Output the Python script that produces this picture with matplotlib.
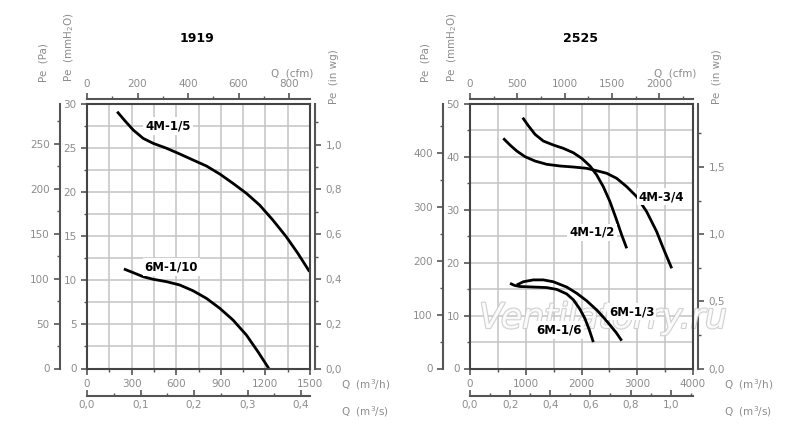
import matplotlib
matplotlib.use("Agg")
import matplotlib.pyplot as plt
import matplotlib.patheffects as pe
from matplotlib.ticker import MultipleLocator, FuncFormatter

# ---- data (Q in m3/h, Pe in mmH2O) ----
q_1919_4m15 = [203, 255, 311, 378, 445, 535, 624, 713, 803, 893, 982, 1072, 1161, 1250, 1340, 1418, 1497]
p_1919_4m15 = [29.13, 28.1, 27.05, 26.1, 25.54, 24.98, 24.33, 23.65, 22.97, 22.06, 21.0, 19.87, 18.54,
               16.84, 14.95, 13.07, 10.98]
q_1919_6m110 = [248, 311, 378, 445, 535, 624, 713, 803, 893, 982, 1072, 1150, 1223]
p_1919_6m110 = [11.29, 10.87, 10.41, 10.12, 9.85, 9.47, 8.82, 7.96, 6.83, 5.5, 3.8, 1.9, 0.0]

q_2525_4m12 = [945, 1046, 1166, 1315, 1494, 1674, 1853, 2004, 2152, 2273, 2391, 2511, 2619, 2721, 2811]
p_2525_4m12 = [47.41, 45.9, 44.27, 43.0, 42.25, 41.62, 40.79, 39.73, 38.28, 36.58, 34.37, 31.53,
               28.39, 25.24, 22.72]
q_2525_4m34 = [597, 717, 838, 987, 1166, 1376, 1614, 1853, 2093, 2273, 2452, 2631, 2811, 2990,
               3169, 3349, 3467, 3618]
p_2525_4m34 = [43.51, 42.25, 41.12, 40.04, 39.22, 38.6, 38.28, 38.09, 37.84, 37.39, 36.9, 35.95,
               34.37, 32.48, 29.64, 25.86, 22.72, 18.94]
q_2525_6m13 = [838, 956, 1136, 1315, 1494, 1734, 1914, 2093, 2273, 2392, 2511, 2621, 2721]
p_2525_6m13 = [15.78, 16.4, 16.75, 16.75, 16.4, 15.4, 14.22, 12.8, 11.06, 9.7, 8.22, 6.8, 5.26]
q_2525_6m16 = [718, 800, 897, 1017, 1136, 1256, 1376, 1555, 1734, 1853, 1973, 2063, 2140, 2212]
p_2525_6m16 = [16.1, 15.7, 15.5, 15.45, 15.4, 15.35, 15.3, 14.95, 14.1, 13.0, 11.2, 9.4, 7.3, 5.0]

W, H = 800, 443
GRAY = '#8c8c8c'
SPINE = '#555555'

def fx(x):
    return x / W

def fy(y):
    return 1 - y / H

def comma(v, pos):
    return f"{v:.1f}".replace('.', ',')

def style_axis(a, axis):
    a.tick_params(axis=axis, which='major', length=4, width=1.2, color=SPINE,
                  labelcolor=GRAY, labelsize=7.5)
    a.tick_params(axis=axis, which='minor', length=2.5, width=1.0, color=SPINE)
    for s in a.spines.values():
        s.set_color(SPINE)
        s.set_linewidth(1.5)

fig = plt.figure(figsize=(8, 4.43), dpi=100)


def panel(left, title, xmax, xmaj, xmin, ymax, ymaj, ymin,
          pa_maj, pa_min, in_maj, in_min, cfm_maj, cfm_min, s_maj, s_min,
          curves, labels):
    right = left + 223
    ax = fig.add_axes([fx(left), fy(368.5), (right - left) / W, 264.5 / H])
    ax.set_xlim(0, xmax)
    ax.set_ylim(0, ymax)
    ax.xaxis.set_major_locator(MultipleLocator(xmaj))
    ax.xaxis.set_minor_locator(MultipleLocator(xmin))
    ax.yaxis.set_major_locator(MultipleLocator(ymaj))
    ax.yaxis.set_minor_locator(MultipleLocator(ymin))
    ax.grid(which='both', color='#c4c4c4', linewidth=1.1)
    ax.set_axisbelow(True)
    style_axis(ax, 'x')
    style_axis(ax, 'y')
    for s in ax.spines.values():
        s.set_color('#444444')

    for q, p in curves:
        ax.plot(q, p, color='black', linewidth=2, solid_capstyle='butt', solid_joinstyle='round')
    for txt, qx, py in labels:
        ax.text(qx, py, txt, fontsize=8.5, fontweight='bold', ha='center', va='center', zorder=4,
                bbox=dict(facecolor='white', edgecolor='none', pad=1.5))

    w = right - left
    h = 264.5
    # Pe (Pa)
    pa = ax.secondary_yaxis(-27 / w, functions=(lambda m: m * 9.80665, lambda p: p / 9.80665))
    pa.yaxis.set_major_locator(MultipleLocator(pa_maj))
    pa.yaxis.set_minor_locator(MultipleLocator(pa_min))
    style_axis(pa, 'y')
    # Pe (in wg)
    inw = ax.secondary_yaxis(1 + 5 / w, functions=(lambda m: m / 25.4, lambda i: i * 25.4))
    inw.yaxis.set_major_locator(MultipleLocator(in_maj))
    inw.yaxis.set_minor_locator(MultipleLocator(in_min))
    inw.yaxis.set_major_formatter(FuncFormatter(comma))
    style_axis(inw, 'y')
    # Q (cfm)
    cfm = ax.secondary_xaxis(1 + 5 / h, functions=(lambda q: q / 1.699, lambda c: c * 1.699))
    cfm.xaxis.set_major_locator(MultipleLocator(cfm_maj))
    cfm.xaxis.set_minor_locator(MultipleLocator(cfm_min))
    style_axis(cfm, 'x')
    # Q (m3/s)
    qs = ax.secondary_xaxis(-27 / h, functions=(lambda q: q / 3600, lambda s: s * 3600))
    qs.xaxis.set_major_locator(MultipleLocator(s_maj))
    qs.xaxis.set_minor_locator(MultipleLocator(s_min))
    qs.xaxis.set_major_formatter(FuncFormatter(comma))
    style_axis(qs, 'x')
    qs.tick_params(axis='x', which='both', direction='in')

    # axis captions
    fs = 7.5
    fig.text(fx(left + 110), fy(38), title, fontsize=9, fontweight='bold', ha='center', va='center')
    fig.text(fx(left - 44), fy(63), 'Pe  (Pa)', rotation=90, fontsize=fs, color=GRAY,
             ha='center', va='center')
    fig.text(fx(left - 18), fy(47), 'Pe  (mmH$_2$O)', rotation=90, fontsize=fs, color=GRAY,
             ha='center', va='center')
    fig.text(fx(right + 3), fy(73), 'Q  (cfm)', fontsize=fs, color=GRAY, ha='right', va='center')
    fig.text(fx(right + 24), fy(77), 'Pe  (in wg)', rotation=90, fontsize=fs, color=GRAY,
             ha='center', va='center')
    fig.text(fx(right + 31), fy(385), 'Q  (m$^3$/h)', fontsize=fs, color=GRAY, ha='left', va='center')
    fig.text(fx(right + 31), fy(412), 'Q  (m$^3$/s)', fontsize=fs, color=GRAY, ha='left', va='center')
    return ax


panel(87, '1919', 1500, 300, 150, 30, 5, 2.5,
      50, 25, 0.2, 0.1, 200, 100, 0.1, 0.05,
      [(q_1919_4m15, p_1919_4m15), (q_1919_6m110, p_1919_6m110)],
      [('4M-1/5', 546, 27.5), ('6M-1/10', 568, 11.5)])

ax2 = panel(470, '2525', 4000, 1000, 500, 50, 10, 5,
            100, 50, 0.5, 0.25, 500, 250, 0.2, 0.1,
            [(q_2525_4m12, p_2525_4m12), (q_2525_4m34, p_2525_4m34),
             (q_2525_6m13, p_2525_6m13), (q_2525_6m16, p_2525_6m16)],
            [('4M-3/4', 3438, 32.5), ('4M-1/2', 2183, 25.75),
             ('6M-1/3', 2900, 10.75), ('6M-1/6', 1602, 7.3)])

# watermark (above the grid, under curves and labels)
ax2.text(fx(603), fy(318), 'Ventilatorry.ru', transform=fig.transFigure, fontsize=25,
         style='italic', color='white', ha='center', va='center', alpha=0.85, zorder=1.5,
         clip_on=False, path_effects=[pe.withStroke(linewidth=1.6, foreground='#cacaca')])

fig.savefig('out.png', dpi=100)
